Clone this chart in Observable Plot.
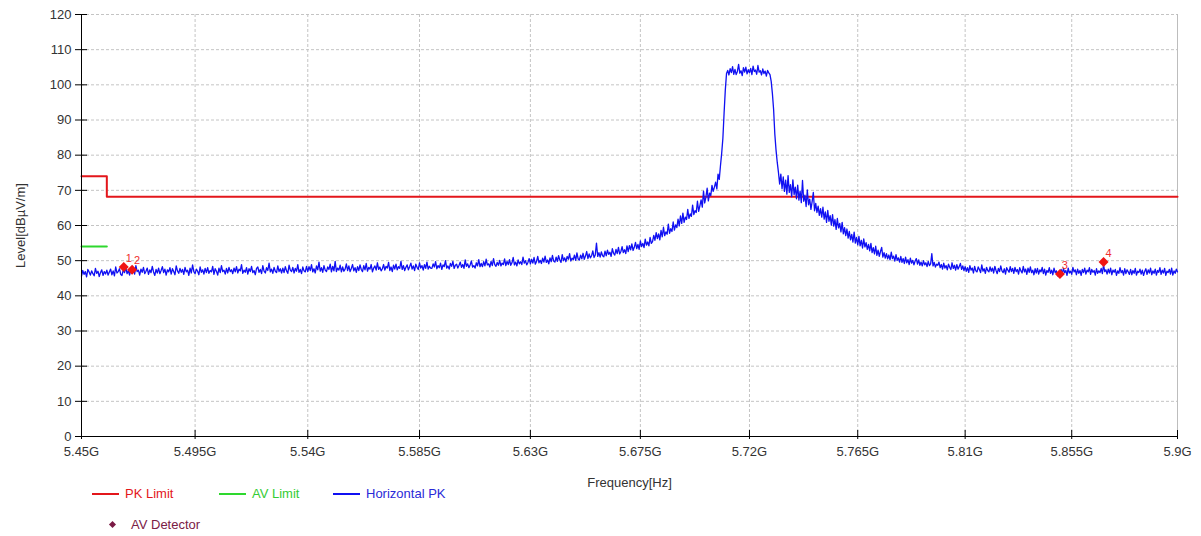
<!DOCTYPE html>
<html><head><meta charset="utf-8">
<script src="https://cdn.jsdelivr.net/npm/d3@7"></script>
<script src="https://cdn.jsdelivr.net/npm/@observablehq/plot@0.6"></script>
<style>
body{margin:0;background:#fff;font-family:"Liberation Sans",Arial,sans-serif;}
#wrap{position:relative;width:1201px;height:536px;overflow:hidden;}
#wrap svg{position:absolute;left:0;top:0;}
.leg{position:absolute;font-size:13px;line-height:14px;white-space:nowrap;}
.sw{position:absolute;height:2px;width:27px;}
.dm{position:absolute;width:5px;height:5px;transform:rotate(45deg);}
</style></head><body><div id="wrap"></div>
<script>
// Sweep definition of the analyzer trace (0.5 MHz steps from 5.45 GHz)
const sweepStartHz = 5.45e9;
const sweepStepHz = 0.5e6;
// Horizontal PK trace levels, dBµV/m, 20 points per 10 MHz
const levels = [
45.6,47.2,46.1,46.9,45.4,47.5,46.8,45.9,47.1,46.3,45.7,47.8,46.4,47.0,45.5,46.6,47.4,45.8,46.9,46.2,
47.3,45.9,46.8,47.6,46.0,47.1,45.7,48.2,46.5,46.9,47.7,46.1,45.8,47.4,46.6,48.0,46.3,47.2,45.9,47.5,
46.4,47.8,46.2,48.6,46.9,47.3,45.9,47.6,46.7,48.1,46.3,47.0,47.9,46.1,47.4,46.6,48.4,46.8,45.8,47.5,
46.5,47.9,46.3,47.2,48.3,46.6,47.6,45.9,47.4,46.8,48.0,46.2,47.7,46.9,46.0,48.5,47.1,46.4,47.8,46.7,
47.5,46.1,48.1,46.8,47.3,45.8,47.9,46.5,48.8,46.9,46.3,47.6,47.0,46.0,48.2,46.7,47.4,46.2,47.8,46.6,
48.0,46.4,47.2,46.8,48.4,46.1,47.7,47.0,45.9,47.9,46.6,48.6,46.9,47.3,46.2,47.8,46.5,48.1,46.9,47.4,
46.3,47.9,46.8,48.3,46.5,47.6,47.1,48.9,46.4,47.3,46.7,48.0,46.2,47.7,46.9,48.4,46.6,47.2,46.0,47.8,
48.2,46.7,47.5,46.3,48.6,47.0,46.5,48.0,47.2,49.3,46.8,47.6,46.4,48.1,47.0,46.6,48.5,46.9,47.7,46.5,
47.9,46.6,48.3,47.1,46.4,48.7,47.3,46.9,48.1,46.5,47.8,47.0,48.9,46.7,47.5,46.3,48.2,47.1,46.8,48.4,
46.9,48.3,47.2,48.9,46.8,47.7,46.5,48.5,47.4,49.6,47.0,48.0,46.7,48.6,47.3,46.9,48.2,47.5,49.0,46.8,
48.4,47.1,49.8,46.9,47.9,47.3,48.7,46.8,48.2,47.0,47.6,49.1,47.2,48.5,46.9,47.8,48.9,47.1,48.0,46.7,
48.3,47.2,48.8,47.5,46.9,48.6,47.4,49.2,47.0,48.1,47.6,48.9,46.8,47.9,48.5,47.3,49.4,47.5,48.2,47.1,
47.7,48.9,47.3,48.4,47.9,49.5,47.2,48.2,46.9,48.7,47.6,49.0,47.4,48.3,47.8,49.8,47.5,48.6,47.2,48.1,
48.8,47.4,48.3,49.3,47.6,48.5,47.2,49.0,48.1,47.5,49.4,47.9,48.6,47.3,48.9,47.8,49.6,47.6,48.4,47.9,
47.8,49.1,48.2,49.7,47.7,48.6,48.0,49.3,47.5,48.8,48.3,50.0,47.9,48.5,47.6,49.2,48.4,49.8,47.8,48.7,
49.0,47.9,48.7,49.6,48.1,48.9,47.8,50.2,48.4,49.1,48.0,48.8,49.9,48.2,48.6,47.9,49.4,48.5,50.3,48.3,
49.2,48.3,49.7,48.5,50.4,48.8,49.1,48.2,49.8,48.6,50.6,48.9,48.4,49.5,48.7,50.1,48.5,49.3,48.9,50.5,
48.6,49.8,48.9,50.3,48.7,49.4,50.9,48.8,49.6,48.5,50.2,49.1,49.7,48.9,51.0,49.3,50.0,48.8,49.5,50.6,
49.1,50.4,49.3,50.9,49.0,49.8,51.2,49.4,50.1,49.2,50.7,49.6,51.3,49.5,50.2,49.1,50.8,49.7,51.5,49.9,
49.6,51.0,49.8,51.4,50.2,49.5,51.7,50.0,50.8,49.7,51.2,50.4,52.0,49.9,50.7,50.3,51.6,50.1,52.2,50.5,
50.2,51.6,50.5,52.1,50.4,51.3,52.6,50.6,51.9,50.8,51.4,52.8,50.9,51.6,55.0,51.2,52.3,51.0,52.5,51.4,
51.1,52.7,51.4,53.0,51.8,52.4,51.2,53.4,52.1,51.6,53.2,52.0,53.8,51.9,52.6,54.0,52.3,53.1,52.0,54.2,
52.6,54.3,53.1,54.8,52.9,53.8,55.2,53.4,54.6,53.2,55.6,54.0,54.9,53.7,56.1,54.4,55.3,54.2,56.6,54.9,
55.4,57.2,55.8,58.0,56.3,57.6,55.9,58.6,56.8,59.5,57.1,58.2,57.5,60.4,57.8,59.1,58.3,61.0,58.7,60.2,
59.4,61.8,59.9,62.7,60.6,63.5,60.9,62.4,61.7,64.6,62.0,63.3,62.6,65.8,63.1,64.2,63.7,66.9,64.0,65.6,
67.3,65.2,69.8,66.4,68.1,70.6,67.0,69.2,68.5,71.4,69.7,70.9,72.3,70.4,74.6,73.1,77.0,80.5,84.8,92.0,
98.5,103.2,104.1,102.8,104.6,103.5,105.2,103.0,104.4,102.9,103.8,105.8,103.3,104.0,102.6,104.9,103.6,105.0,103.1,104.3,
103.4,104.7,102.9,105.3,103.8,104.2,103.0,105.5,103.6,104.0,102.8,104.5,103.2,103.9,102.5,104.1,103.4,102.9,101.0,97.5,
93.0,86.0,81.5,78.0,75.2,71.8,74.6,70.5,73.8,69.7,72.9,68.9,74.2,69.4,71.6,68.2,73.0,68.8,70.9,67.6,
71.5,67.2,69.8,66.5,72.8,66.9,68.6,65.4,70.1,65.9,67.5,64.6,66.8,69.4,64.2,66.3,63.7,65.5,62.9,64.8,
62.4,65.2,61.8,63.9,60.9,64.3,61.2,62.8,60.1,63.1,59.8,61.7,58.9,62.0,59.3,60.6,58.2,60.9,57.6,59.4,
57.1,59.0,56.4,58.3,55.9,57.5,55.3,58.1,55.0,56.6,54.5,56.9,54.2,55.8,53.6,56.2,53.9,55.1,53.2,54.6,
52.8,54.9,52.3,53.7,51.9,54.1,51.5,53.0,51.2,52.6,53.8,51.0,52.3,50.7,52.0,50.5,51.6,50.2,52.4,50.6,
51.3,49.9,51.7,50.1,50.8,49.6,51.2,49.5,50.6,49.2,51.0,49.4,50.3,48.9,50.7,49.3,50.1,48.8,49.9,50.6,
49.0,50.2,48.7,49.6,48.5,50.0,48.8,49.4,48.3,49.8,48.6,49.1,52.0,48.5,49.5,48.2,49.0,48.7,49.6,48.0,
48.9,47.6,49.3,47.9,48.6,47.4,49.0,48.1,47.5,49.4,47.8,48.7,47.3,48.9,47.6,48.3,49.2,47.5,48.5,47.2,
48.3,47.0,48.0,46.7,48.6,47.3,47.9,46.5,48.4,47.1,46.8,48.2,47.5,46.6,48.8,47.0,47.7,46.4,48.1,47.2,
46.8,48.2,47.0,47.9,46.5,48.4,47.2,46.3,47.8,46.9,48.5,47.1,46.6,47.7,46.2,48.0,47.3,46.7,48.3,46.9,
47.8,46.4,48.1,46.9,47.5,46.2,48.0,47.1,46.5,48.4,46.8,47.6,46.1,47.9,46.7,48.2,46.6,47.3,46.0,47.7,
46.5,47.8,46.2,47.4,46.8,48.1,46.3,47.6,45.9,47.2,46.7,48.0,46.4,47.3,46.0,47.9,46.6,47.1,45.7,46.8,
45.9,47.5,46.3,47.8,46.6,47.2,45.8,47.9,46.5,47.0,46.1,48.1,46.8,47.4,46.0,47.6,46.4,47.2,45.8,47.5,
46.6,47.9,46.2,47.3,46.8,48.0,46.1,47.5,46.7,47.2,45.9,47.7,46.4,47.1,46.6,47.8,46.3,48.8,46.9,47.4,
46.2,47.6,46.5,47.9,46.0,47.3,46.7,47.5,45.8,47.1,46.4,48.0,46.6,47.2,45.9,47.7,46.3,47.4,46.8,46.1,
47.5,46.0,47.2,46.4,47.8,45.9,47.0,46.6,47.6,46.2,47.3,45.8,46.9,47.7,46.1,47.4,46.5,47.9,46.0,47.1,
46.4,47.6,45.9,47.2,46.7,48.0,46.1,47.3,46.5,47.8,45.8,47.0,46.6,47.5,46.2,47.9,45.9,47.1,46.4,47.6,
46.8];

// Limits
const pkLimitFreq = [5.45e9, 5.46e9, 5.46e9, 5.9e9];
const pkLimitLevel = [74, 74, 68.2, 68.2];
const avLimitFreq = [5.45e9, 5.46e9];
const avLimitLevel = [54, 54];

// AV detector markers
const markerFreq = [5.4667e9, 5.470e9, 5.850e9, 5.8685e9];
const markerLevel = [48.2, 47.4, 46.2, 49.6];
const markerLabel = ["1", "2", "3", "4"];

// Axes
const xTicks = [5.45e9, 5.495e9, 5.54e9, 5.585e9, 5.63e9, 5.675e9, 5.72e9, 5.765e9, 5.81e9, 5.855e9, 5.9e9];
const xTickLabels = ["5.45G", "5.495G", "5.54G", "5.585G", "5.63G", "5.675G", "5.72G", "5.765G", "5.81G", "5.855G", "5.9G"];
const yTicks = [0, 10, 20, 30, 40, 50, 60, 70, 80, 90, 100, 110, 120];

const trace = levels.map((v, i) => ({f: sweepStartHz + i * sweepStepHz, v}));
const pk = pkLimitFreq.map((f, i) => ({f, v: pkLimitLevel[i]}));
const av = avLimitFreq.map((f, i) => ({f, v: avLimitLevel[i]}));
const markers = markerFreq.map((f, i) => ({f, v: markerLevel[i], label: markerLabel[i]}));
const fmt = new Map(xTicks.map((t, i) => [t, xTickLabels[i]]));

const RED = "#e3161b", GREEN = "#2ed82e", BLUE = "#1010f2";
const chart = Plot.plot({
  width: 1201, height: 536,
  marginLeft: 81, marginRight: 24, marginTop: 14, marginBottom: 100,
  style: {fontFamily: '"Liberation Sans", Arial, sans-serif', fontSize: "13px", color: "#333", background: "transparent", overflow: "visible"},
  x: {type: "log", domain: [5.45e9, 5.9e9]},
  y: {domain: [0, 120]},
  marks: [
    Plot.gridY(yTicks, {stroke: "#c4c4c4", strokeOpacity: 1, strokeDasharray: "3,2"}),
    Plot.gridX(xTicks, {stroke: "#c4c4c4", strokeOpacity: 1, strokeDasharray: "3,2"}),
    Plot.ruleX([5.9e9], {stroke: "#bdbdbd"}),
    Plot.line(pk, {x: "f", y: "v", stroke: RED, strokeWidth: 2}),
    Plot.line(av, {x: "f", y: "v", stroke: GREEN, strokeWidth: 2}),
    Plot.line(trace, {x: "f", y: "v", stroke: BLUE, strokeWidth: 1.3}),
    Plot.ruleY([0], {stroke: "#000"}),
    Plot.ruleX([5.45e9], {stroke: "#000"}),
    Plot.axisY(yTicks, {tickSize: 12, dx: 6, tickFormat: () => "", label: null, stroke: "#000"}),
    Plot.axisY(yTicks, {tickSize: 0, tickPadding: 10, label: "Level[dBµV/m]", labelAnchor: "center", labelOffset: 66, labelArrow: "none", fill: "#333"}),
    Plot.axisX(xTicks, {tickSize: 9, dy: -6, tickFormat: () => "", label: null, stroke: "#000"}),
    Plot.axisX(xTicks, {tickSize: 0, tickPadding: 10, tickFormat: d => fmt.get(d), label: "Frequency[Hz]", labelAnchor: "center", labelOffset: 50, labelArrow: "none", fill: "#333"}),
    Plot.dot(markers, {x: "f", y: "v", symbol: "diamond2", r: 4.5, fill: "#f01414", stroke: "none"}),
    Plot.text(markers, {x: "f", y: "v", text: "label", dx: 5, dy: -9, fill: "#f03030", fontSize: 11})
  ]
});
const wrap = document.getElementById("wrap");
wrap.appendChild(chart);

// Legend
const legendItems = [
  {kind: "line", color: RED, text: "PK Limit", textColor: "#e3161b", left: 92, top: 494},
  {kind: "line", color: GREEN, text: "AV Limit", textColor: "#34cc34", left: 219, top: 494},
  {kind: "line", color: BLUE, text: "Horizontal PK", textColor: "#2a2ad8", left: 333, top: 494},
  {kind: "diamond", color: "#7a1a45", text: "AV Detector", textColor: "#7a2045", left: 110, top: 525}
];
for (const it of legendItems) {
  if (it.kind === "line") {
    const s = document.createElement("div");
    s.className = "sw"; s.style.left = it.left + "px"; s.style.top = (it.top - 1) + "px"; s.style.background = it.color;
    wrap.appendChild(s);
    const t = document.createElement("div");
    t.className = "leg"; t.style.left = (it.left + 33) + "px"; t.style.top = (it.top - 7) + "px"; t.style.color = it.textColor; t.textContent = it.text;
    wrap.appendChild(t);
  } else {
    const s = document.createElement("div");
    s.className = "dm"; s.style.left = it.left + "px"; s.style.top = (it.top - 3) + "px"; s.style.background = it.color;
    wrap.appendChild(s);
    const t = document.createElement("div");
    t.className = "leg"; t.style.left = (it.left + 21) + "px"; t.style.top = (it.top - 7) + "px"; t.style.color = it.textColor; t.textContent = it.text;
    wrap.appendChild(t);
  }
}
</script>
</body></html>
